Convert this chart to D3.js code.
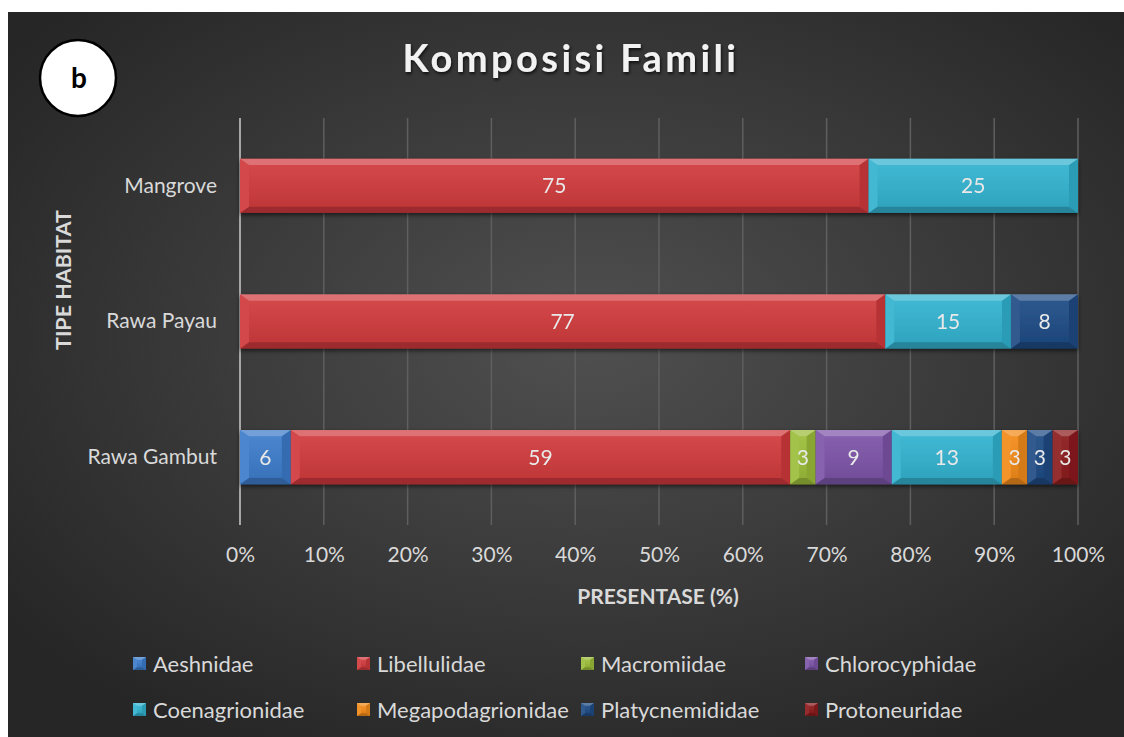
<!DOCTYPE html>
<html>
<head>
<meta charset="utf-8">
<script src="https://cdn.jsdelivr.net/npm/d3@7"></script>
<style>
  html, body { margin: 0; padding: 0; background: #fff; }
  svg { display: block; font-family: Lato, "Open Sans", sans-serif; }
</style>
</head>
<body>
<svg id="chart" width="1124" height="737"></svg>
<script>
// data
var habitats = ["Rawa Gambut", "Rawa Payau", "Mangrove"];
var families = ["Aeshnidae", "Libellulidae", "Macromiidae", "Chlorocyphidae",
                "Coenagrionidae", "Megapodagrionidae", "Platycnemididae", "Protoneuridae"];
var aeshnidae         = [6, 0, 0];
var libellulidae      = [59, 77, 75];
var macromiidae       = [3, 0, 0];
var chlorocyphidae    = [9, 0, 0];
var coenagrionidae    = [13, 15, 25];
var megapodagrionidae = [3, 0, 0];
var platycnemididae   = [3, 8, 0];
var protoneuridae     = [3, 0, 0];
var xTicks = [0, 0.1, 0.2, 0.3, 0.4, 0.5, 0.6, 0.7, 0.8, 0.9, 1];

var colors = ["#3d7cca", "#d03b3d", "#9cbd3a", "#7d55a8",
              "#33b2cf", "#f28b1a", "#1f4c85", "#8c1c1e"];

var series = [aeshnidae, libellulidae, macromiidae, chlorocyphidae,
              coenagrionidae, megapodagrionidae, platycnemididae, protoneuridae];

var table = habitats.map(function(h, i){
  var row = { habitat: h };
  families.forEach(function(f, j){ row[f] = series[j][i]; });
  return row;
});

var FONT = "Lato, 'Open Sans', sans-serif";
var svg = d3.select("#chart");
var defs = svg.append("defs");

// background
var bg = defs.append("radialGradient").attr("id", "bg")
  .attr("cx", "52%").attr("cy", "45%").attr("r", "65%");
bg.append("stop").attr("offset", "0%").attr("stop-color", "#505050");
bg.append("stop").attr("offset", "100%").attr("stop-color", "#262626");
svg.append("rect").attr("x", 8).attr("y", 12).attr("width", 1116).attr("height", 725)
  .attr("fill", "url(#bg)");

var shadow = defs.append("filter").attr("id", "shadow")
  .attr("x", "-10%").attr("y", "-20%").attr("width", "120%").attr("height", "160%");
shadow.append("feDropShadow").attr("dx", 0).attr("dy", 2).attr("stdDeviation", 2)
  .attr("flood-color", "#000").attr("flood-opacity", 0.6);

var tshadow = defs.append("filter").attr("id", "tshadow");
tshadow.append("feDropShadow").attr("dx", 1).attr("dy", 2).attr("stdDeviation", 1.5)
  .attr("flood-color", "#000").attr("flood-opacity", 0.7);

// scales
var x = d3.scaleLinear().domain([0, 1]).range([240, 1078]);
var y = d3.scaleBand().domain(habitats.slice().reverse()).range([118, 525])
  .paddingInner(0.6).paddingOuter(0.3);
var color = d3.scaleOrdinal().domain(families).range(colors);

// gridlines
svg.append("g").selectAll("line").data(xTicks.slice(1)).join("line")
  .attr("x1", function(d){ return x(d); }).attr("x2", function(d){ return x(d); })
  .attr("y1", 118).attr("y2", 525)
  .attr("stroke", "#5f5f5f").attr("stroke-width", 1.5);

// x axis labels
var xAxis = d3.axisBottom(x).tickValues(xTicks).tickFormat(d3.format(".0%")).tickSize(0).tickPadding(0);
svg.append("g").attr("transform", "translate(0,543)").call(xAxis)
  .attr("font-family", FONT).attr("font-size", 21)
  .call(function(g){ g.select(".domain").remove(); })
  .selectAll("text").attr("fill", "#d9d9d9").attr("dy", "0.9em");

// y axis labels
var yAxis = d3.axisLeft(y).tickSize(0).tickPadding(0);
svg.append("g").attr("transform", "translate(217,0)").call(yAxis)
  .attr("font-family", FONT).attr("font-size", 21)
  .call(function(g){ g.select(".domain").remove(); })
  .selectAll("text").attr("fill", "#d9d9d9");

// vertical axis line
svg.append("line").attr("x1", x(0)).attr("x2", x(0)).attr("y1", 118).attr("y2", 525)
  .attr("stroke", "#a6a6a6").attr("stroke-width", 2);

var face = defs.append("linearGradient").attr("id", "face").attr("x1", 0).attr("x2", 0).attr("y1", 0).attr("y2", 1);
face.append("stop").attr("offset", "0%").attr("stop-color", "#fff").attr("stop-opacity", 0.06);
face.append("stop").attr("offset", "100%").attr("stop-color", "#000").attr("stop-opacity", 0.08);

// bevelled block
function bevel(g, x0, y0, w, h, c, b){
  var bx = Math.min(b, w / 2), by = Math.min(b * 0.7, h / 2);
  g.append("rect").attr("x", x0).attr("y", y0).attr("width", w).attr("height", h)
    .attr("fill", c);
  var faces = [
    { p: [[x0, y0], [x0 + w, y0], [x0 + w - bx, y0 + by], [x0 + bx, y0 + by]], f: "#fff", o: 0.28 },
    { p: [[x0, y0], [x0 + bx, y0 + by], [x0 + bx, y0 + h - by], [x0, y0 + h]], f: "#fff", o: 0.08 },
    { p: [[x0 + w, y0], [x0 + w, y0 + h], [x0 + w - bx, y0 + h - by], [x0 + w - bx, y0 + by]], f: "#000", o: 0.12 },
    { p: [[x0, y0 + h], [x0 + bx, y0 + h - by], [x0 + w - bx, y0 + h - by], [x0 + w, y0 + h]], f: "#000", o: 0.25 }
  ];
  faces.forEach(function(d){
    g.append("polygon").attr("points", d.p.map(function(q){ return q.join(","); }).join(" "))
      .attr("fill", d.f).attr("opacity", d.o);
  });
  g.append("rect").attr("x", x0 + bx).attr("y", y0 + by).attr("width", Math.max(0, w - 2 * bx))
    .attr("height", Math.max(0, h - 2 * by)).attr("fill", "url(#face)");
}

// bars
var stacked = d3.stack().keys(families).offset(d3.stackOffsetExpand)(table);
var layers = svg.append("g").attr("filter", "url(#shadow)");
stacked.forEach(function(layer){
  layer.forEach(function(d){
    var v = d.data[layer.key];
    if (!v) return;
    var g = layers.append("g");
    bevel(g, x(d[0]), y(d.data.habitat), x(d[1]) - x(d[0]), y.bandwidth(), color(layer.key), 9);
  });
});
var labels = svg.append("g");
stacked.forEach(function(layer){
  layer.forEach(function(d){
    var v = d.data[layer.key];
    if (!v) return;
    labels.append("text")
      .attr("x", (x(d[0]) + x(d[1])) / 2)
      .attr("y", y(d.data.habitat) + y.bandwidth() / 2)
      .attr("dy", "0.35em").attr("text-anchor", "middle")
      .attr("fill", "#e8e8e8").attr("font-size", 21)
      .text(v);
  });
});

// title
svg.append("text").attr("x", 571).attr("y", 72).attr("text-anchor", "middle")
  .attr("fill", "#f2f2f2").attr("font-size", 38).attr("font-weight", "bold")
  .attr("letter-spacing", 3.4).attr("filter", "url(#tshadow)")
  .text("Komposisi Famili");

// panel tag
svg.append("circle").attr("cx", 78).attr("cy", 78).attr("r", 38)
  .attr("fill", "#fff").attr("stroke", "#000").attr("stroke-width", 2.5);
svg.append("text").attr("x", 79).attr("y", 88).attr("text-anchor", "middle")
  .attr("font-size", 28).attr("font-weight", "bold").attr("fill", "#000")
  .text("b");

// axis titles
svg.append("text").attr("transform", "translate(71,280) rotate(-90)")
  .attr("text-anchor", "middle").attr("fill", "#d9d9d9")
  .attr("font-size", 21.5).attr("font-weight", "bold")
  .text("TIPE HABITAT");
svg.append("text").attr("x", 658).attr("y", 604).attr("text-anchor", "middle")
  .attr("fill", "#d9d9d9").attr("font-size", 21).attr("font-weight", "bold")
  .text("PRESENTASE (%)");

// legend
var legendX = [133, 357, 581, 805], legendY = [664, 710];
var legend = svg.append("g");
families.forEach(function(f, i){
  var lx = legendX[i % 4], ly = legendY[Math.floor(i / 4)];
  var g = legend.append("g");
  bevel(g, lx, ly - 7, 13, 13, color(f), 4);
  legend.append("text").attr("x", lx + 20).attr("y", ly).attr("dy", "0.35em")
    .attr("fill", "#d9d9d9").attr("font-size", 22).text(f);
});
</script>
</body>
</html>
